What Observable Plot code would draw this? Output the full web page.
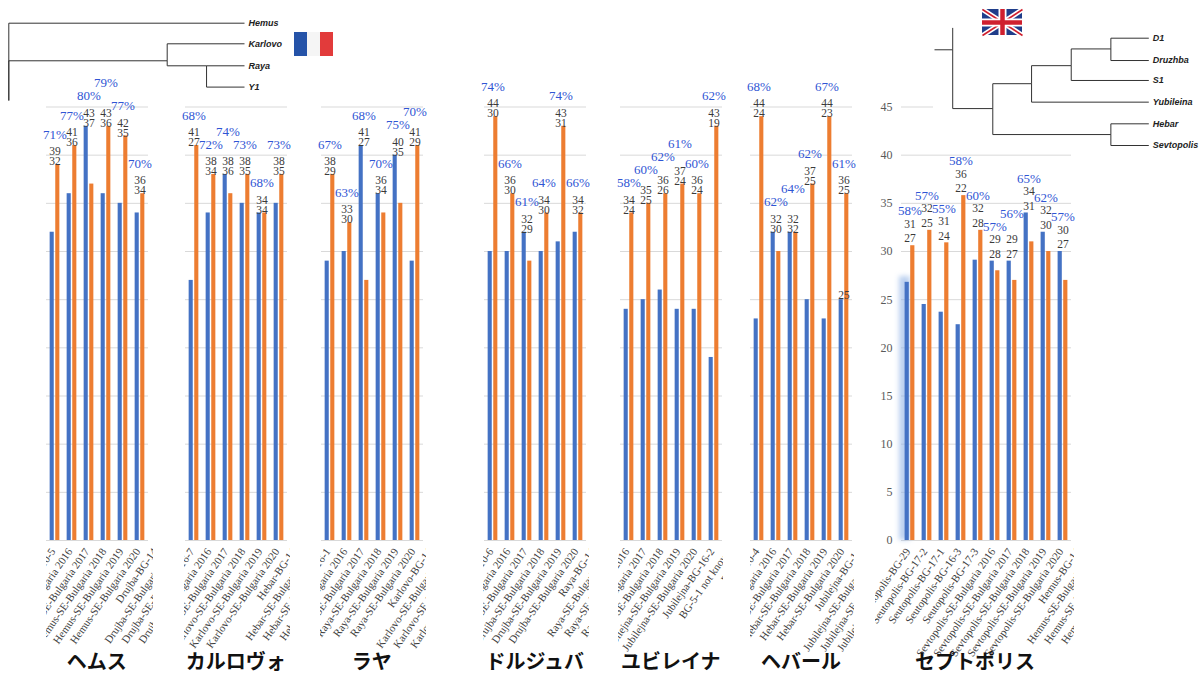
<!DOCTYPE html>
<html><head><meta charset="utf-8">
<script src="https://cdn.jsdelivr.net/npm/d3@7"></script>
<script src="https://cdn.jsdelivr.net/npm/@observablehq/plot@0.6"></script>
<style>
html,body{margin:0;padding:0;background:#fff;}
#root{position:relative;width:1200px;height:674px;overflow:hidden;background:#fff;}
#root svg{position:absolute;max-width:none !important;overflow:visible !important;}
.title{position:absolute;top:651px;font-family:"Noto Sans CJK JP";font-weight:700;font-size:20px;line-height:20px;color:#111;white-space:nowrap;transform:translateX(-50%);}
</style></head><body><div id="root"></div>
<script>
// ---------------- data ----------------
const yTicks = [0, 5, 10, 15, 20, 25, 30, 35, 40, 45];

const hemusCats = ["Hemus-BG-10-5", "Hemus-SE-Bulgaria 2016", "Hemus-SE-Bulgaria 2017", "Hemus-SE-Bulgaria 2018", "Hemus-SE-Bulgaria 2019", "Hemus-SE-Bulgaria 2020"];
const hemusNext = ["Drujba-BG-14", "Drujba-SE-Bulgaria 2016", "Drujba-SE-Bulgaria 2017", "Drujba-SE-Bulgaria 2018"];
const hemusBlue = [32, 36, 43, 36, 35, 34];
const hemusOrange = [39, 41, 37, 43, 42, 36];
const hemusHi = ["39", "41", "43", "43", "42", "36"];
const hemusLo = ["32", "36", "37", "36", "35", "34"];
const hemusPct = [71, 77, 80, 79, 77, 70];

const karlovoCats = ["Karlovo-BG-16-7", "Karlovo-SE-Bulgaria 2016", "Karlovo-SE-Bulgaria 2017", "Karlovo-SE-Bulgaria 2018", "Karlovo-SE-Bulgaria 2019", "Karlovo-SE-Bulgaria 2020"];
const karlovoNext = ["Hebar-BG-14", "Hebar-SE-Bulgaria 2016", "Hebar-SE-Bulgaria 2017", "Hebar-SE-Bulgaria 2018"];
const karlovoBlue = [27, 34, 38, 35, 34, 35];
const karlovoOrange = [41, 38, 36, 38, 34, 38];
const karlovoHi = ["41", "38", "38", "38", "34", "38"];
const karlovoLo = ["27", "34", "36", "35", "34", "35"];
const karlovoPct = [68, 72, 74, 73, 68, 73];

const rayaCats = ["Raya-BG-16-1", "Raya-SE-Bulgaria 2016", "Raya-SE-Bulgaria 2017", "Raya-SE-Bulgaria 2018", "Raya-SE-Bulgaria 2019", "Raya-SE-Bulgaria 2020"];
const rayaNext = ["Karlovo-BG-14", "Karlovo-SE-Bulgaria 2016", "Karlovo-SE-Bulgaria 2017", "Karlovo-SE-Bulgaria 2018"];
const rayaBlue = [29, 30, 41, 36, 40, 29];
const rayaOrange = [38, 33, 27, 34, 35, 41];
const rayaHi = ["38", "33", "41", "36", "40", "41"];
const rayaLo = ["29", "30", "27", "34", "35", "29"];
const rayaPct = [67, 63, 68, 70, 75, 70];

const druzhbaCats = ["Drujba-BG-10-6", "Drujba-SE-Bulgaria 2016", "Drujba-SE-Bulgaria 2017", "Drujba-SE-Bulgaria 2018", "Drujba-SE-Bulgaria 2019", "Drujba-SE-Bulgaria 2020"];
const druzhbaNext = ["Raya-BG-14", "Raya-SE-Bulgaria 2016", "Raya-SE-Bulgaria 2017", "Raya-SE-Bulgaria 2018"];
const druzhbaBlue = [30, 30, 32, 30, 31, 32];
const druzhbaOrange = [44, 36, 29, 34, 43, 34];
const druzhbaHi = ["44", "36", "32", "34", "43", "34"];
const druzhbaLo = ["30", "30", "29", "30", "31", "32"];
const druzhbaPct = [74, 66, 61, 64, 74, 66];

const yubileinaCats = ["Jubilejna-SE-Bulgaria 2016", "Jubilejna-SE-Bulgaria 2017", "Jubilejna-SE-Bulgaria 2018", "Jubilejna-SE-Bulgaria 2019", "Jubilejna-SE-Bulgaria 2020", "Jubilejna-BG-16-2"];
const yubileinaNext = ["BG-5-1 not known", "BG-10-4", "BG-10-5", "BG-10-6"];
const yubileinaBlue = [24, 25, 26, 24, 24, 19];
const yubileinaOrange = [34, 35, 36, 37, 36, 43];
const yubileinaHi = ["34", "35", "36", "37", "36", "43"];
const yubileinaLo = ["24", "25", "26", "24", "24", "19"];
const yubileinaPct = [58, 60, 62, 61, 60, 62];

const hebarCats = ["Hebar-BG-10-4", "Hebar-SE-Bulgaria 2016", "Hebar-SE-Bulgaria 2017", "Hebar-SE-Bulgaria 2018", "Hebar-SE-Bulgaria 2019", "Hebar-SE-Bulgaria 2020"];
const hebarNext = ["Jubilejna-BG-14", "Jubilejna-SE-Bulgaria 2016", "Jubilejna-SE-Bulgaria 2017", "Jubilejna-SE-Bulgaria 2018"];
const hebarBlue = [23, 32, 32, 25, 23, 25];
const hebarOrange = [44, 30, 32, 37, 44, 36];
const hebarHi = ["44", "32", "32", "37", "44", "36"];
const hebarLo = ["24", "30", "32", "25", "23", "25"];
const hebarExtra = ["", "", "", "", "", "25"];
const hebarPct = [68, 62, 64, 62, 67, 61];

const sevtopolisCats = ["Seutopolis-BG-29", "Seutopolis-BG-17-2", "Seutopolis-BG-17-1", "Seutopolis-BG-16-3", "Seutopolis-BG-17-3", "Sevtopolis-SE-Bulgaria 2016", "Sevtopolis-SE-Bulgaria 2017", "Sevtopolis-SE-Bulgaria 2018", "Sevtopolis-SE-Bulgaria 2019", "Sevtopolis-SE-Bulgaria 2020"];
const sevtopolisNext = ["Hemus-BG-14", "Hemus-SE-Bulgaria 2016", "Hemus-SE-Bulgaria 2017", "Hemus-SE-Bulgaria 2018"];
const sevtopolisBlue = [26.8, 24.5, 23.7, 22.4, 29.1, 29, 29, 34, 32, 30];
const sevtopolisOrange = [30.6, 32.2, 30.9, 35.8, 32.2, 28, 27, 31, 30, 27];
const sevtopolisHi = ["31", "32", "31", "36", "32", "29", "29", "34", "32", "30"];
const sevtopolisLo = ["27", "25", "24", "22", "28", "28", "27", "31", "30", "27"];
const sevtopolisPct = [58, 57, 55, 58, 60, 57, 56, 65, 62, 57];

const panelTitles = ["ヘムス", "カルロヴォ", "ラヤ", "ドルジュバ", "ユビレイナ", "ヘバール", "セプトポリス"];

// dendrogram (French cultivars)
const frTreeNames = ["root", "Hemus", "A", "Karlovo", "B", "Raya", "Y1"];
const frTreeParents = [null, "root", "root", "A", "A", "B", "B"];
const frTreeDepths = [0, 1, 0.672, 1, 0.839, 1, 1];
const frTreeOrders = [3.63, 0, 1.765, 0.967, 2, 2, 3];
const frTreeLeaves = ["Hemus", "Karlovo", "Raya", "Y1"];

// dendrogram (UK cultivars)
const ukTreeNames = ["stem", "root", "top", "C", "D", "E", "F", "D1", "Druzhba", "S1", "Yubileina", "G", "Hebar", "Sevtopolis"];
const ukTreeParents = [null, "stem", "root", "root", "C", "D", "E", "F", "F", "E", "D", "C", "G", "G"];
const ukTreeDepths = [0, 0.085, 0.085, 0.272, 0.453, 0.638, 0.823, 1, 1, 1, 1, 0.823, 1, 1];
const ukTreeOrders = [0.54, 0.54, -0.48, 3.28, 2.12, 1.28, 0.5, 0, 1.04, 1.97, 2.98, 4.49, 3.99, 5];
const ukTreeLeaves = ["D1", "Druzhba", "S1", "Yubileina", "Hebar", "Sevtopolis"];

const frFlagColors = ["#2553a8", "#f5f5f5", "#e23b3b"];

// ---------------- layout / rendering ----------------
const BLUE = "#4472c4", ORANGE = "#ed7d31", PCT = "#2f55d4", NUM = "#3a3a3a", GLOW = "#8fb2e6";
const Y0 = 540, Y45 = 106.5;
const yPx = d3.scaleLinear([0, 45], [Y0, Y45]);
const root = document.getElementById("root");

function place(el, left, top) {
  el.style.left = left + "px";
  el.style.top = top + "px";
  root.appendChild(el);
  return el;
}

function treeEdges(names, parents, depths, orders) {
  const idx = new Map(names.map((n, i) => [n, i]));
  const edges = [];
  names.forEach((n, i) => {
    const p = parents[i];
    if (p == null) return;
    const j = idx.get(p);
    edges.push({px: depths[j], py: orders[j], x: depths[i], y: orders[i]});
  });
  return edges;
}
function treeLeaves(names, depths, orders, leaves) {
  return leaves.map(l => { const i = names.indexOf(l); return {name: l, x: depths[i], y: orders[i]}; });
}
function treePlot(edges, leaves, opts) {
  return Plot.plot({
    width: opts.width, height: opts.height,
    marginLeft: opts.x0, marginRight: opts.width - opts.x1, marginTop: opts.y0, marginBottom: opts.height - opts.y1,
    x: {domain: [0, 1], range: [opts.x0, opts.x1], axis: null},
    y: {domain: opts.yDomain, range: [opts.y0, opts.y1], axis: null},
    style: {background: opts.bg, overflow: "visible"},
    marks: [
      Plot.link(edges, {x1: "px", y1: "py", x2: "x", y2: "y", curve: "step-before", stroke: "#333", strokeWidth: 1}),
      Plot.text(leaves, {x: "x", y: "y", text: "name", dx: 4, textAnchor: "start", fontStyle: "italic", fontWeight: "bold",
        fontSize: 9, fontFamily: "Liberation Sans, Arial, sans-serif", fill: "#222"})
    ]
  });
}

// left tree (under the charts)
place(treePlot(
  treeEdges(frTreeNames, frTreeParents, frTreeDepths, frTreeOrders),
  treeLeaves(frTreeNames, frTreeDepths, frTreeOrders, frTreeLeaves),
  {width: 300, height: 110, x0: 8.3, x1: 244, y0: 22.7, y1: 86.6, yDomain: [0, 3], bg: "transparent"}), 0, 0);

const panels = [
  {cats: hemusCats, next: hemusNext, blue: hemusBlue, orange: hemusOrange, hi: hemusHi, lo: hemusLo, pct: hemusPct, frameLeft: 45.5, step: 17.1, clipLeft: 46, clipRight: 153},
  {cats: karlovoCats, next: karlovoNext, blue: karlovoBlue, orange: karlovoOrange, hi: karlovoHi, lo: karlovoLo, pct: karlovoPct, frameLeft: 184.5, step: 17.1, clipLeft: 184, clipRight: 290},
  {cats: rayaCats, next: rayaNext, blue: rayaBlue, orange: rayaOrange, hi: rayaHi, lo: rayaLo, pct: rayaPct, frameLeft: 320.5, step: 17.1, clipLeft: 320, clipRight: 426},
  {cats: druzhbaCats, next: druzhbaNext, blue: druzhbaBlue, orange: druzhbaOrange, hi: druzhbaHi, lo: druzhbaLo, pct: druzhbaPct, frameLeft: 483.5, step: 17.1, clipLeft: 483, clipRight: 589},
  {cats: yubileinaCats, next: yubileinaNext, blue: yubileinaBlue, orange: yubileinaOrange, hi: yubileinaHi, lo: yubileinaLo, pct: yubileinaPct, frameLeft: 619.5, step: 17.1, clipLeft: 618, clipRight: 723},
  {cats: hebarCats, next: hebarNext, blue: hebarBlue, orange: hebarOrange, hi: hebarHi, lo: hebarLo, extra: hebarExtra, pct: hebarPct, frameLeft: 749.7, step: 17.1, clipLeft: 750, clipRight: 854},
  {cats: sevtopolisCats, next: sevtopolisNext, blue: sevtopolisBlue, orange: sevtopolisOrange, hi: sevtopolisHi, lo: sevtopolisLo, pct: sevtopolisPct, frameLeft: 901, step: 17, clipLeft: 875, clipRight: 1074,
    yAxis: true, glow: true, loDy: -7, gap: 14.5, pctGap: 13, titleShift: -11}
];

panels.forEach((p, k) => {
  const n = p.cats.length, step = p.step;
  const domain = [...p.cats, ...p.next];
  const frameRight = p.frameLeft + domain.length * step;
  const width = Math.ceil(frameRight + 40);
  const loDy = p.loDy ?? -3, gap = p.gap ?? 10, pctGap = p.pctGap ?? 17;
  const rows = p.cats.map((c, i) => ({
    cat: c, blue: p.blue[i], orange: p.orange[i], hi: p.hi[i], lo: p.lo[i],
    pct: p.pct[i] + "%", top: Math.max(p.blue[i], p.orange[i]), extra: p.extra ? p.extra[i] : ""
  }));
  // stagger neighbouring percentage labels so they do not sit on one another
  let prev = null;
  rows.forEach(r => {
    const hiPx = yPx(r.top) + loDy - gap;
    let py = hiPx - pctGap;
    if (prev != null && Math.abs(py - prev) < 12) {
      const down = prev + 13;
      py = (down <= hiPx - 11) ? down : prev - 13;
    }
    r.pctY = yPx.invert(py);
    prev = py;
  });
  const bw = 4.2, off = 2.8, c = step / 2;
  const blueIn = {insetLeft: c - off - bw / 2, insetRight: step - (c - off + bw / 2)};
  const orangeIn = {insetLeft: c + off - bw / 2, insetRight: step - (c + off + bw / 2)};
  const numStyle = {fontSize: 11.5, fill: NUM, fontFamily: "Liberation Serif, Times New Roman, serif"};
  const marks = [
    Plot.ruleY(yTicks, {x1: () => p.cats[0], x2: () => p.cats[n - 1], stroke: "#d9d9d9", strokeWidth: 1})
  ];
  if (p.glow) {
    marks.push(Plot.barY(rows.slice(0, 1), {x: "cat", y: d => d.blue + 0.6, fill: GLOW, fillOpacity: 0.6,
      insetLeft: -2, insetRight: step - 9}));
  }
  marks.push(
    Plot.barY(rows, {x: "cat", y: "blue", fill: BLUE, ...blueIn}),
    Plot.barY(rows, {x: "cat", y: "orange", fill: ORANGE, ...orangeIn}),
    Plot.text(rows, {x: "cat", y: "top", text: "lo", dy: loDy, ...numStyle}),
    Plot.text(rows, {x: "cat", y: "top", text: "hi", dy: loDy - gap, ...numStyle}),
    Plot.text(rows, {x: "cat", y: "pctY", text: "pct", fontSize: 13, fill: PCT,
      fontFamily: "Liberation Serif, Times New Roman, serif"}),
    Plot.text(domain, {x: d => d, text: d => d, frameAnchor: "bottom", rotate: -55, textAnchor: "end", lineAnchor: "middle",
      dx: -2, dy: 9, fontSize: 11, fill: "#404040", fontFamily: "Liberation Serif, Times New Roman, serif"})
  );
  if (p.extra) {
    marks.push(Plot.text(rows.filter(d => d.extra), {x: "cat", y: "blue", text: "extra", dy: -4, ...numStyle}));
  }
  if (p.yAxis) {
    marks.push(Plot.text(yTicks, {y: d => d, text: d => String(d), frameAnchor: "left", textAnchor: "end", dx: -9,
      fontSize: 12, fill: "#595959", fontFamily: "Liberation Serif, Times New Roman, serif"}));
  }
  const chart = Plot.plot({
    width, height: 674,
    marginLeft: p.frameLeft, marginRight: width - frameRight, marginTop: Y45, marginBottom: 674 - Y0,
    x: {type: "band", domain, padding: 0, range: [p.frameLeft, frameRight], axis: null},
    y: {domain: [0, 45], range: [Y0, Y45], axis: null},
    style: {background: "transparent", overflow: "visible"},
    marks
  });
  const svg = d3.select(chart);
  const defs = svg.append("defs");
  defs.append("clipPath").attr("id", "xclip" + k).append("rect")
    .attr("x", p.clipLeft).attr("y", Y0 + 1).attr("width", p.clipRight - p.clipLeft).attr("height", 133);
  // wrap the rotated category labels in an untransformed, clipped group
  const rotated = svg.selectAll("text").filter(function () {
    return /rotate\(-55/.test(this.getAttribute("transform") || "");
  }).nodes();
  if (rotated.length) {
    const g = rotated[0].parentNode;
    const wrap = svg.append("g").attr("clip-path", `url(#xclip${k})`);
    wrap.node().appendChild(g);
  }
  if (p.glow) {
    const f = defs.append("filter").attr("id", "glowblur" + k).attr("x", "-80%").attr("y", "-10%").attr("width", "260%").attr("height", "120%");
    f.append("feGaussianBlur").attr("stdDeviation", 2.5);
    svg.selectAll("g").filter(function () { return (this.getAttribute("fill") || "").toLowerCase() === GLOW; })
      .attr("filter", `url(#glowblur${k})`);
    svg.selectAll("rect").filter(function () { return (this.getAttribute("fill") || "").toLowerCase() === GLOW; })
      .attr("filter", `url(#glowblur${k})`);
  }
  place(chart, 0, 0);
  const t = document.createElement("div");
  t.className = "title";
  t.textContent = panelTitles[k];
  place(t, p.frameLeft + n * step / 2 + (p.titleShift || 0), 651);
});

// right tree (on top, white box)
place(treePlot(
  treeEdges(ukTreeNames, ukTreeParents, ukTreeDepths, ukTreeOrders),
  treeLeaves(ukTreeNames, ukTreeDepths, ukTreeOrders, ukTreeLeaves),
  {width: 267, height: 152, x0: 1, x1: 215.3, y0: 37.7, y1: 145, yDomain: [0, 5], bg: "white"}), 933, 0);

// flags
place(Plot.plot({
  width: 39, height: 24, margin: 0,
  x: {domain: [0, 3], range: [0, 39], axis: null},
  style: {background: "transparent"},
  marks: [Plot.barX(frFlagColors, {x1: (d, i) => i, x2: (d, i) => i + 1, fill: d => d})]
}), 294, 32);

const ukDiagonals = [{a: 0, b: 0, c: 60, d: 30}, {a: 0, b: 30, c: 60, d: 0}];
place(Plot.plot({
  width: 40, height: 26, margin: 0,
  x: {domain: [0, 60], range: [0, 40], axis: null},
  y: {domain: [0, 30], range: [26, 0], axis: null},
  style: {background: "transparent"},
  marks: [
    Plot.rect([0], {x1: 0, x2: 60, y1: 0, y2: 30, fill: "#1f3d8a"}),
    Plot.link(ukDiagonals, {x1: "a", y1: "b", x2: "c", y2: "d", stroke: "white", strokeWidth: 5}),
    Plot.link(ukDiagonals, {x1: "a", y1: "b", x2: "c", y2: "d", stroke: "#cf1f2e", strokeWidth: 1.6}),
    Plot.ruleX([30], {stroke: "white", strokeWidth: 8}),
    Plot.ruleY([15], {stroke: "white", strokeWidth: 8}),
    Plot.ruleX([30], {stroke: "#cf1f2e", strokeWidth: 4.5}),
    Plot.ruleY([15], {stroke: "#cf1f2e", strokeWidth: 4.5})
  ]
}), 982, 9);
</script></body></html>
